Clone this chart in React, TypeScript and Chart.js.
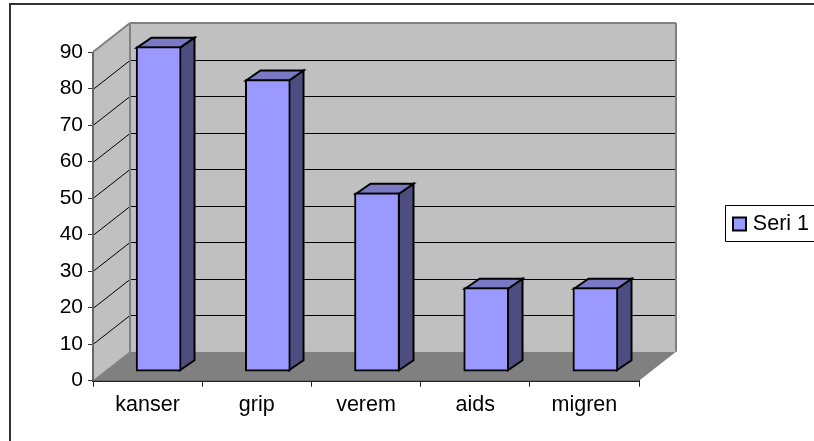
import React, { useEffect, useRef } from "react";
import { Chart, registerables } from "chart.js";

Chart.register(...registerables);

const categories = ["kanser", "grip", "verem", "aids", "migren"];
const seriesName = "Seri 1";
const seriesValues = [89, 80, 49, 23, 23];
const axisMax = 90;
const axisStep = 10;

const FONT = "'Liberation Sans', Arial, sans-serif";
const WALL = "#c0c0c0";
const EDGE = "#808080";
const FLOOR = "#808080";
const BAR_FRONT = "#9999ff";
const BAR_TOP = "#7a7ac4";
const BAR_SIDE = "#4d4d80";

// pseudo-3D projection offsets
const BACK = { dx: 37, dy: -29 };
const BAR_SHIFT = { dx: 11, dy: -9 };
const BAR_DEPTH = { dx: 14.5, dy: -10 };

const poly = (ctx: CanvasRenderingContext2D, pts: number[][], fill?: string, stroke?: string, lw = 1) => {
  ctx.beginPath();
  pts.forEach(([x, y], i) => (i ? ctx.lineTo(x, y) : ctx.moveTo(x, y)));
  ctx.closePath();
  if (fill) {
    ctx.fillStyle = fill;
    ctx.fill();
  }
  if (stroke) {
    ctx.strokeStyle = stroke;
    ctx.lineWidth = lw;
    ctx.lineJoin = "miter";
    ctx.stroke();
  }
};

const line = (ctx: CanvasRenderingContext2D, x1: number, y1: number, x2: number, y2: number, color: string, lw = 1) => {
  ctx.beginPath();
  ctx.moveTo(x1, y1);
  ctx.lineTo(x2, y2);
  ctx.strokeStyle = color;
  ctx.lineWidth = lw;
  ctx.stroke();
};

const frame3d = {
  id: "frame3d",
  afterLayout(chart: any) {
    const lg = chart.legend;
    if (lg) {
      lg.left = 726;
      lg.right = 809;
      lg.top = 206;
      lg.bottom = 242;
    }
  },
  beforeDraw(chart: any) {
    const { ctx } = chart;
    ctx.save();
    ctx.fillStyle = "#ffffff";
    ctx.fillRect(0, 0, chart.width, chart.height);
    // outer frame: only top and left are visible
    ctx.strokeStyle = "#333333";
    ctx.lineWidth = 2;
    ctx.beginPath();
    ctx.moveTo(10, 441);
    ctx.lineTo(10, 4);
    ctx.lineTo(814, 4);
    ctx.stroke();
    // legend box
    ctx.lineWidth = 1;
    ctx.strokeStyle = "#000000";
    ctx.beginPath();
    ctx.moveTo(814, 205.5);
    ctx.lineTo(725.5, 205.5);
    ctx.lineTo(725.5, 241.5);
    ctx.lineTo(814, 241.5);
    ctx.stroke();
    ctx.restore();
  },
  beforeDatasetsDraw(chart: any) {
    const { ctx } = chart;
    const x = chart.scales.x;
    const y = chart.scales.y;
    const l = x.left;
    const r = x.right;
    const b = y.getPixelForValue(0);
    const t = y.getPixelForValue(axisMax);
    ctx.save();
    // back wall
    poly(ctx, [[l + BACK.dx, t + BACK.dy], [r + BACK.dx, t + BACK.dy], [r + BACK.dx, b + BACK.dy], [l + BACK.dx, b + BACK.dy]], WALL);
    // left wall
    poly(ctx, [[l, t], [l + BACK.dx, t + BACK.dy], [l + BACK.dx, b + BACK.dy], [l, b]], WALL);
    // grid lines
    y.ticks.forEach((tk: any) => {
      if (tk.value === 0 || tk.value === axisMax) return;
      const py = Math.round(y.getPixelForValue(tk.value)) + 0.5;
      line(ctx, l, py, l + BACK.dx, py + BACK.dy, "#000000", 1);
      line(ctx, l + BACK.dx, py + BACK.dy, r + BACK.dx, py + BACK.dy, "#000000", 1);
    });
    // floor
    poly(ctx, [[l, b], [r, b], [r + BACK.dx, b + BACK.dy], [l + BACK.dx, b + BACK.dy]], FLOOR);
    // wall edges
    const lw = 2;
    line(ctx, l, t, l + BACK.dx, t + BACK.dy, EDGE, lw);
    line(ctx, l + BACK.dx, t + BACK.dy, r + BACK.dx, t + BACK.dy, EDGE, lw);
    line(ctx, r + BACK.dx, t + BACK.dy, r + BACK.dx, b + BACK.dy, EDGE, lw);
    line(ctx, l + BACK.dx, t + BACK.dy, l + BACK.dx, b + BACK.dy, EDGE, lw);
    line(ctx, l, b, l + BACK.dx, b + BACK.dy, EDGE, 1);
    line(ctx, l, t, l, b, "#666666", 2);
    ctx.restore();
  },
  beforeDatasetDraw(chart: any, args: any) {
    const { ctx } = chart;
    ctx.save();
    ctx.translate(BAR_SHIFT.dx, BAR_SHIFT.dy);
    args.meta.data.forEach((el: any) => {
      const { x, y, base, width } = el.getProps(["x", "y", "base", "width"], true);
      const L = Math.round(x - width / 2) + 1;
      const R = Math.round(x + width / 2) - 1;
      const T = y + 1;
      const B = base - 1;
      const d = BAR_DEPTH;
      poly(ctx, [[R, T], [R + d.dx, T + d.dy], [R + d.dx, B + d.dy], [R, B]], BAR_SIDE, "#000000", 2);
      poly(ctx, [[L, T], [L + d.dx, T + d.dy], [R + d.dx, T + d.dy], [R, T]], BAR_TOP, "#000000", 2);
    });
  },
  afterDatasetDraw(chart: any) {
    chart.ctx.restore();
  },
};

export default function App() {
  const ref = useRef<HTMLCanvasElement>(null);
  useEffect(() => {
    const chart = new Chart(ref.current as HTMLCanvasElement, {
      type: "bar",
      plugins: [frame3d as any],
      data: {
        labels: categories,
        datasets: [
          {
            label: seriesName,
            data: seriesValues,
            backgroundColor: BAR_FRONT,
            borderColor: "#000000",
            borderWidth: 2,
            borderSkipped: false,
            barThickness: 45,
            clip: false as any,
          },
        ],
      },
      options: {
        responsive: false,
        animation: false,
        layout: { padding: { top: 52, right: 175, bottom: 0, left: 0 } },
        plugins: {
          tooltip: { enabled: false },
          legend: {
            position: "chartArea" as any,
            labels: {
              boxWidth: 13,
              boxHeight: 13,
              padding: 7,
              textAlign: "right" as any,
              color: "#000000",
              font: { family: FONT, size: 21.5 },
            },
          },
        },
        scales: {
          x: {
            afterFit: (s: any) => {
              s.height = 60.3;
            },
            grid: { drawOnChartArea: false, drawTicks: true, tickLength: 6, color: "#222222", offset: true },
            border: { display: true, color: "#222222", width: 2 },
            ticks: { color: "#000000", padding: 5, font: { family: FONT, size: 21.5 }, maxRotation: 0 },
          },
          y: {
            min: 0,
            max: axisMax,
            afterFit: (s: any) => {
              s.width = 93;
            },
            grid: { drawOnChartArea: false, drawTicks: true, tickLength: 5, color: "#333333" },
            border: { display: false },
            ticks: { stepSize: axisStep, color: "#000000", padding: 5, font: { family: FONT, size: 21 } },
          },
        },
      },
    });
    return () => chart.destroy();
  }, []);
  return (
    <canvas
      ref={ref}
      width={814}
      height={441}
      style={{ position: "absolute", left: 0, top: 0, width: 814, height: 441, display: "block" }}
    />
  );
}
